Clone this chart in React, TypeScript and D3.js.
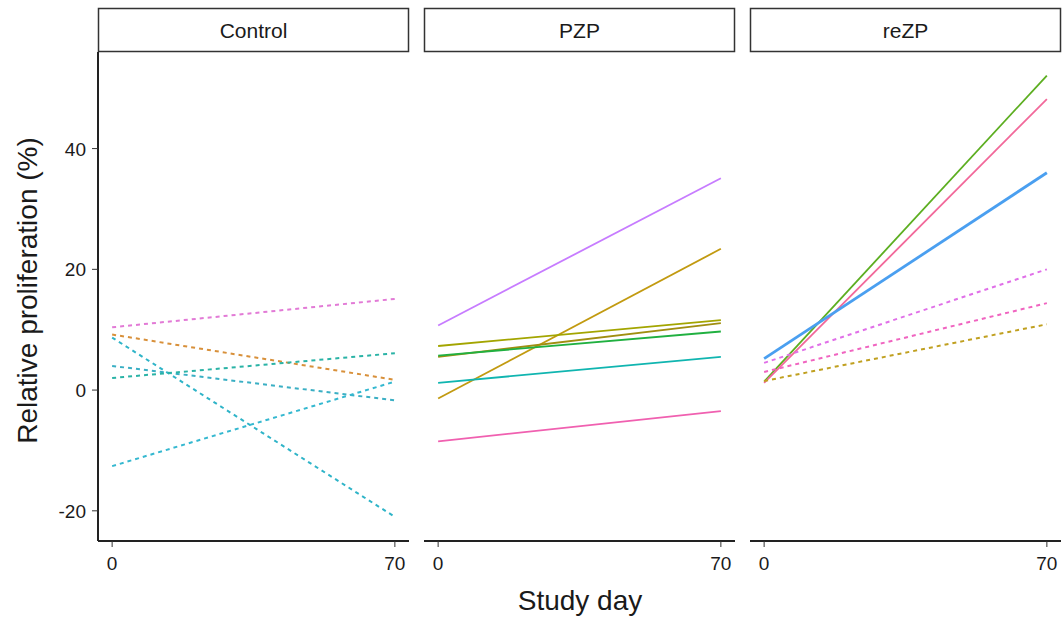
import React from "react";
import * as d3 from "d3";

// ---- data ----
const groups = ["Control", "PZP", "reZP"];
const days = [0, 70];
const yTicks = [-20, 0, 20, 40];

// each animal: value at day 0 and day 70; responder -> solid, else dashed
const controlAnimals = [
  { id: "C1", d0: 10.4, d70: 15.1, responder: false },
  { id: "C2", d0: 9.2, d70: 1.7, responder: false },
  { id: "C3", d0: 8.7, d70: -21.0, responder: false },
  { id: "C4", d0: 4.0, d70: -1.7, responder: false },
  { id: "C5", d0: 2.0, d70: 6.1, responder: false },
  { id: "C6", d0: -12.6, d70: 1.4, responder: false },
];
const pzpAnimals = [
  { id: "P1", d0: 10.7, d70: 35.1, responder: true },
  { id: "P2", d0: -1.4, d70: 23.4, responder: true },
  { id: "P3", d0: 7.3, d70: 11.6, responder: true },
  { id: "P4", d0: 5.5, d70: 11.1, responder: true },
  { id: "P5", d0: 5.7, d70: 9.7, responder: true },
  { id: "P6", d0: 1.2, d70: 5.5, responder: true },
  { id: "P7", d0: -8.5, d70: -3.5, responder: true },
];
const rezpAnimals = [
  { id: "R1", d0: 1.4, d70: 52.1, responder: true },
  { id: "R2", d0: 1.2, d70: 48.2, responder: true },
  { id: "R3", d0: 5.2, d70: 36.0, responder: true },
  { id: "R4", d0: 4.5, d70: 20.0, responder: false },
  { id: "R5", d0: 3.0, d70: 14.4, responder: false },
  { id: "R6", d0: 1.5, d70: 10.9, responder: false },
];
const animalsByGroup = [controlAnimals, pzpAnimals, rezpAnimals];

// colours per animal (hue palette)
const animalIds = [
  "C1", "C2", "C3", "C4", "C5", "C6",
  "P1", "P2", "P3", "P4", "P5", "P6", "P7",
  "R1", "R2", "R3", "R4", "R5", "R6",
];
const animalColors = [
  "#e27ad6", "#d8903a", "#2fb4c8", "#3aafc4", "#2ab3a6", "#35b8d0",
  "#c77cff", "#c29a10", "#a3a500", "#a08e10", "#20b040", "#10b5b0", "#f060b0",
  "#5cae20", "#f2689a", "#4a9ff0", "#e070e8", "#f064c0", "#c0a020",
];

const W = 1063;
const H = 621;
const panelLefts = [98, 424, 750];
const panelW = 311;
const stripTop = 8;
const stripBottom = 52;
const plotBottom = 541;
const font = "'Liberation Sans', Arial, sans-serif";
const ink = "#1a1a1a";

export default function App() {
  const y = d3.scaleLinear().domain([-25, 56]).range([plotBottom, stripBottom]);
  const color = d3.scaleOrdinal<string, string>().domain(animalIds).range(animalColors);

  return (
    <svg width={W} height={H} style={{ display: "block", position: "absolute", left: 0, top: 0, background: "#fff" }}>
      <rect x={0} y={0} width={W} height={H} fill="#fff" />
      {groups.map((g, gi) => {
        const left = panelLefts[gi];
        const x = d3.scaleLinear().domain([-3.5, 73.5]).range([left, left + panelW]);
        const line = d3
          .line<number>()
          .x((_, i) => x(days[i]))
          .y((v) => y(v));
        return (
          <g key={g}>
            {/* strip */}
            <rect
              x={left + 0.5}
              y={stripTop + 0.5}
              width={panelW - 1}
              height={stripBottom - stripTop - 1}
              fill="#fff"
              stroke="#333"
              strokeWidth={1.5}
            />
            <text x={left + panelW / 2} y={(stripTop + stripBottom) / 2 + 7.5} textAnchor="middle" fontFamily={font} fontSize={21} fill={ink}>
              {g}
            </text>
            {/* lines */}
            {animalsByGroup[gi].map((a) => (
              <path
                key={a.id}
                d={line([a.d0, a.d70]) || ""}
                fill="none"
                stroke={color(a.id)}
                strokeWidth={a.id === "R3" ? 2.8 : a.responder ? 1.8 : 2}
                strokeDasharray={a.responder ? undefined : "4,4"}
              />
            ))}
            {/* x axis */}
            <line x1={left} x2={left + panelW} y1={plotBottom} y2={plotBottom} stroke="#222" strokeWidth={2} />
            {days.map((d) => (
              <g key={d}>
                <line x1={x(d)} x2={x(d)} y1={plotBottom} y2={plotBottom + 6} stroke="#333" strokeWidth={1} />
                <text x={x(d)} y={plotBottom + 29} textAnchor="middle" fontFamily={font} fontSize={19} fill={ink}>
                  {d}
                </text>
              </g>
            ))}
          </g>
        );
      })}
      {/* y axis on first panel */}
      <line x1={panelLefts[0]} x2={panelLefts[0]} y1={stripBottom} y2={plotBottom} stroke="#222" strokeWidth={2} />
      {yTicks.map((t) => (
        <g key={t}>
          <line x1={panelLefts[0] - 6} x2={panelLefts[0]} y1={y(t)} y2={y(t)} stroke="#333" strokeWidth={1} />
          <text x={panelLefts[0] - 12} y={y(t) + 7} textAnchor="end" fontFamily={font} fontSize={19} fill={ink}>
            {t}
          </text>
        </g>
      ))}
      <text
        transform={`translate(37,${(stripBottom + plotBottom) / 2 - 6}) rotate(-90)`}
        textAnchor="middle"
        fontFamily={font}
        fontSize={28}
        fill={ink}
      >
        Relative proliferation (%)
      </text>
      <text x={580} y={610} textAnchor="middle" fontFamily={font} fontSize={28} fill={ink}>
        Study day
      </text>
    </svg>
  );
}
